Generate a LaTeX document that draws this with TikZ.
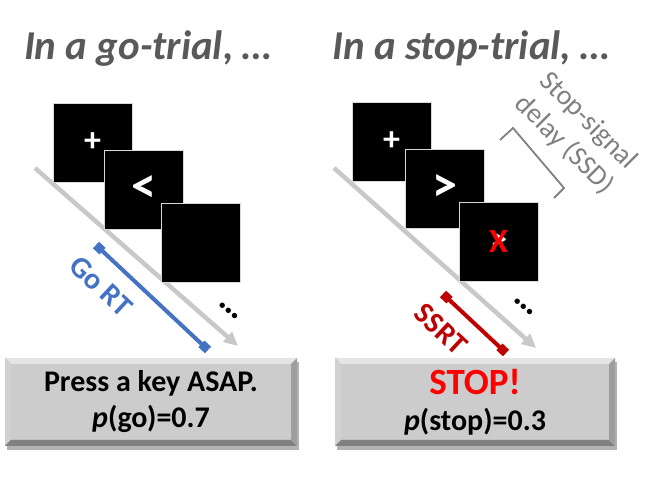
\documentclass[tikz,border=0pt]{standalone}
\usepackage{fontspec}
\setmainfont{Carlito}
\usetikzlibrary{arrows.meta, calc, positioning, shadows}
\definecolor{titlegray}{HTML}{595959}
\definecolor{ssdgray}{HTML}{808080}
\definecolor{axisgray}{HTML}{C8C8C8}
\definecolor{goblue}{HTML}{4472C4}
\definecolor{ssrtred}{HTML}{C00000}
\definecolor{stopred}{HTML}{FF0000}
\definecolor{slidegray}{HTML}{CCCCCC}
\tikzset{
  every picture/.style={line join=miter},
  trialtitle/.style={font=\fontsize{41}{48}\selectfont\bfseries\itshape, text=titlegray, inner sep=0pt},
  % black stimulus screens
  screen/.style={fill=black, draw=white!85!black, line width=0.8pt, minimum size=79pt, inner sep=0pt,
    text=white, font=\fontsize{34}{40}\selectfont\bfseries},
  arrowsign/.style={font=\fontsize{50}{50}\selectfont\bfseries},
  timeline/.style={axisgray, line width=4.5pt, -{Triangle[length=14pt, width=13pt]}},
  rtbar/.style={line width=4pt, {Square[length=9pt, width=9pt]}-{Square[length=9pt, width=9pt]}},
  rtlabel/.style={font=\fontsize{30}{30}\selectfont\bfseries, inner sep=0pt},
  dots/.style={font=\fontsize{36}{40}\selectfont\bfseries, inner sep=0pt},
  ssdtext/.style={font=\fontsize{28}{34}\selectfont, text=ssdgray, align=center, inner sep=0pt},
  % instruction slides with a bevelled edge
  slide/.style={fill=slidegray, minimum width=292pt, minimum height=88pt, inner sep=0pt, align=center,
    font=\fontsize{30}{36}\selectfont\bfseries,
    drop shadow={shadow xshift=2pt, shadow yshift=-4pt, fill=black, opacity=0.3},
    path picture={
      \fill[white!90!black] (path picture bounding box.north west) -- (path picture bounding box.north east)
        -- ([shift={(-6pt,-6pt)}]path picture bounding box.north east) -- ([shift={(6pt,-6pt)}]path picture bounding box.north west) -- cycle;
      \fill[white!82!black] (path picture bounding box.north west) -- (path picture bounding box.south west)
        -- ([shift={(6pt,6pt)}]path picture bounding box.south west) -- ([shift={(6pt,-6pt)}]path picture bounding box.north west) -- cycle;
      \fill[black!50] (path picture bounding box.south west) -- (path picture bounding box.south east)
        -- ([shift={(-6pt,6pt)}]path picture bounding box.south east) -- ([shift={(6pt,6pt)}]path picture bounding box.south west) -- cycle;
      \fill[black!38] (path picture bounding box.north east) -- (path picture bounding box.south east)
        -- ([shift={(-6pt,6pt)}]path picture bounding box.south east) -- ([shift={(-6pt,-6pt)}]path picture bounding box.north east) -- cycle;
    }},
}

\begin{document}
\begin{tikzpicture}[x=1pt, y=-1pt]
  \useasboundingbox (0,0) rectangle (662,478);
  % titles
  \node[trialtitle, anchor=base] (gotitle) at (148,60) {In a go-trial, …};
  \node[trialtitle, anchor=base] (stoptitle) at (471,60) {In a stop-trial, …};

  % go-trial: time axis, screens, reaction time
  \coordinate (gostart) at (35,168);
  \coordinate (goend) at (238,346);
  \draw[timeline] (gostart) -- (goend);
  \node[screen] (gofix) at (92.5,142.5) {+};
  \node[screen, arrowsign] (gocue) at (143.5,189.5) {<};
  \node[screen] (goblank) at (200.5,242.5) {};
  \node[dots, rotate=-40] (godots) at (229,311) {…};
  \coordinate (gortA) at (96,245);
  \coordinate (gortB) at (208,350);
  \draw[rtbar, goblue] (gortA) -- (gortB);
  \node[rtlabel, text=goblue, rotate=-43] (gortlabel) at (101,286) {Go RT};

  % stop-trial: same sequence, then the stop signal
  \coordinate (stopstart) at (334,168);
  \coordinate (stopend) at (536,348);
  \draw[timeline] (stopstart) -- (stopend);
  \node[screen] (stopfix) at (391.5,141.5) {+};
  \node[screen, arrowsign] (stopcue) at (445,188.5) {>};
  \node[screen] (stopsig) at (498.5,241.5) {};
  \node[text=white, font=\fontsize{34}{36}\selectfont\bfseries] (stophidden) at (stopsig) {>};
  \node[text=stopred, font=\fontsize{34}{36}\selectfont\bfseries] (stopx) at (stopsig) {X};
  \node[dots, rotate=-40] (stopdots) at (524,307) {…};
  \coordinate (ssrtA) at (443,294);
  \coordinate (ssrtB) at (506,353);
  \draw[rtbar, ssrtred] (ssrtA) -- (ssrtB);
  \node[rtlabel, text=ssrtred, rotate=-43] (ssrtlabel) at (441,329) {SSRT};

  % stop-signal delay bracket
  \coordinate (ssdA) at (500,140);
  \coordinate (ssdB) at (513,128);
  \coordinate (ssdC) at (564,188);
  \coordinate (ssdD) at (554,198);
  \draw[ssdgray, line width=1.8pt] (ssdA) -- (ssdB) -- (ssdC) -- (ssdD);
  \node[ssdtext, rotate=-45] (ssdlabel) at (576,133) {Stop-signal\\delay (SSD)};

  % instruction slides
  \node[slide] (goslide) at (151,402) {Press a key ASAP.\\\textit{p}(go)=0.7};
  \node[slide, minimum width=280pt] (stopslide) at (475,402)
    {{\color{stopred}\fontsize{37}{36}\selectfont STOP!}\\\textit{p}(stop)=0.3};
\end{tikzpicture}
\end{document}
